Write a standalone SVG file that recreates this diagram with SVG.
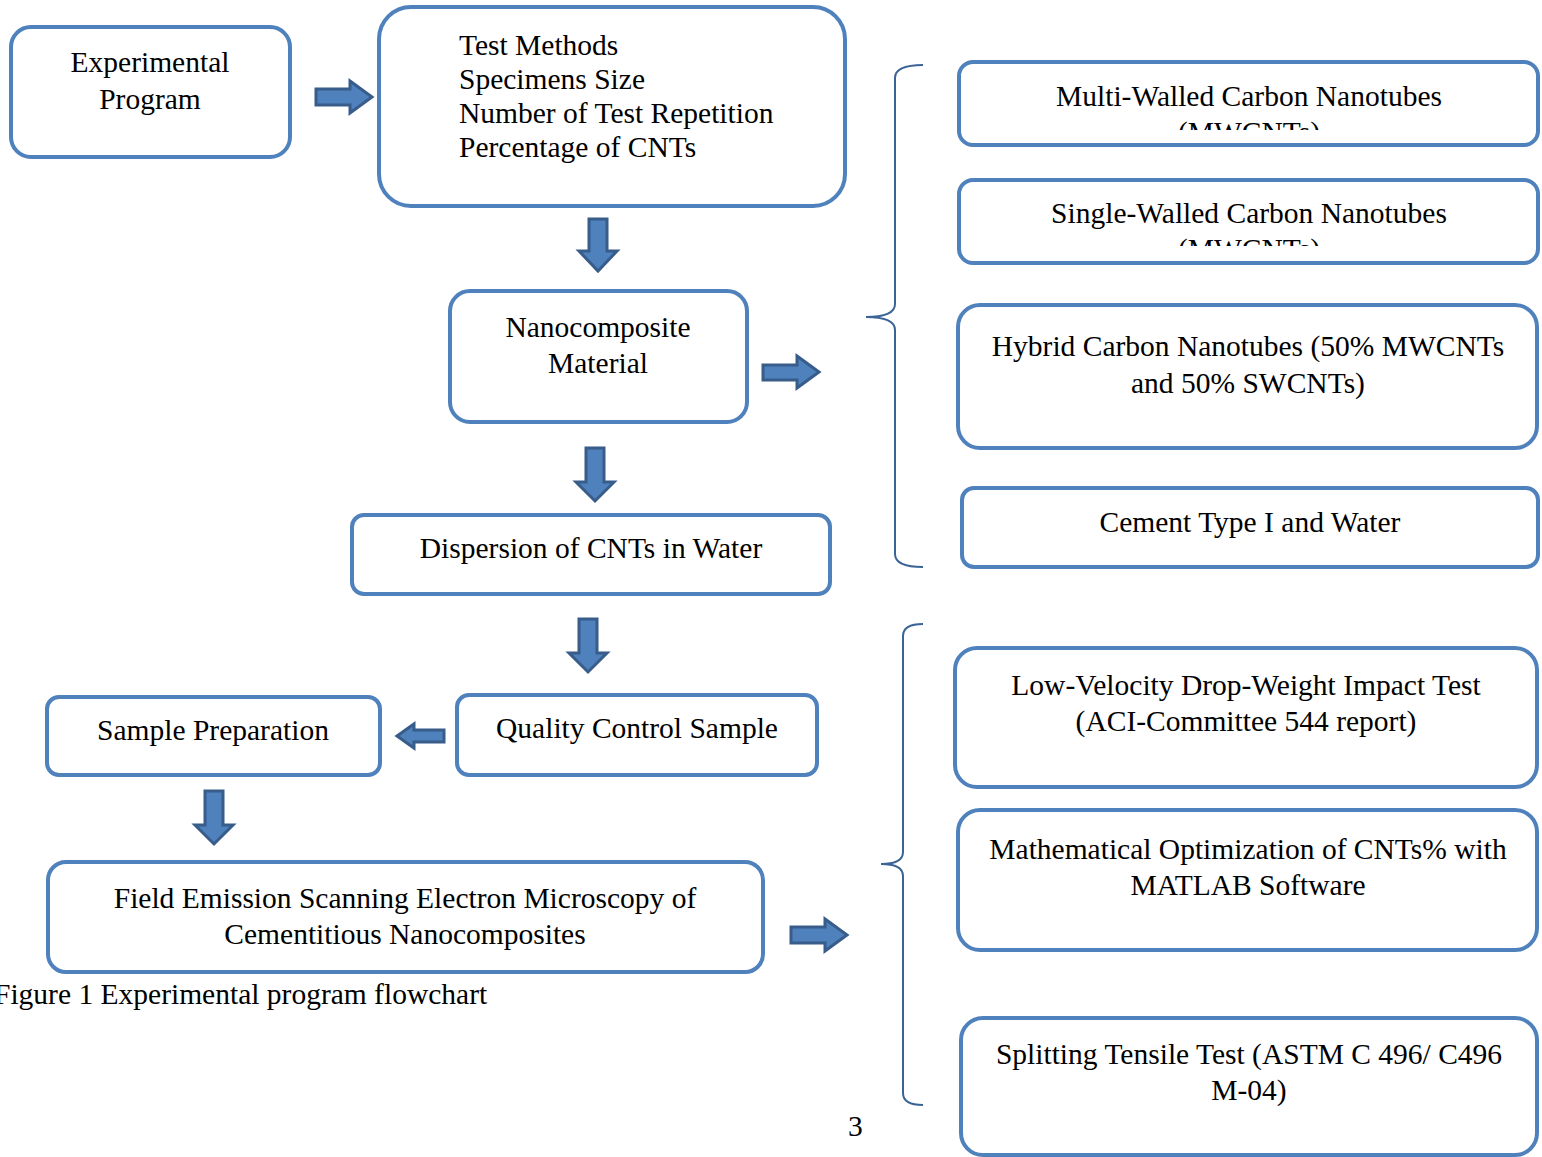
<svg xmlns="http://www.w3.org/2000/svg" width="1542" height="1157" viewBox="0 0 1542 1157">
<style>
.box{fill:#fff;stroke:#4f81bd;stroke-width:4}
text{font-family:"Liberation Serif","Times New Roman",serif;font-size:29.5px;fill:#000}
.c{text-anchor:middle}
.arr{fill:#4f81bd;stroke:#385d8a;stroke-width:3;stroke-linejoin:miter}
.br{fill:none;stroke:#3a6396;stroke-width:2}
</style>
<defs>
<clipPath id="clip1"><rect x="959" y="62" width="580" height="68"/></clipPath>
<clipPath id="clip2"><rect x="959" y="180" width="580" height="66"/></clipPath>
</defs>
<g id="connectors">
<path class="arr" d="M316,89 H350 V81 L372,97 L350,113 V105 H316 Z"/>
<path class="arr" d="M589,219 H607 V251 H617 L598,271 L579,251 H589 Z"/>
<path class="arr" d="M763,365 H797 V356 L819,372 L797,388 V380 H763 Z"/>
<path class="arr" d="M586,448 H604 V482 H614 L595,501 L576,482 H586 Z"/>
<path class="arr" d="M579,619 H597 V653 H607 L588,672 L569,653 H579 Z"/>
<path class="arr" d="M444,730 H414 V724 L397,736 L414,748 V742 H444 Z"/>
<path class="arr" d="M205,791 H223 V825 H233 L214,844 L195,825 H205 Z"/>
<path class="arr" d="M791,927 H825 V919 L847,935 L825,951 V943 H791 Z"/>
<path class="br" d="M923,65 Q895,65 895,78 V304 Q895,317 866,317 Q895,317 895,330 V554 Q895,567 923,567"/>
<path class="br" d="M923,624 Q903,624 903,636 V852 Q903,864 881,864 Q903,864 903,876 V1093 Q903,1105 923,1105"/>
</g>
<g id="n1"><rect class="box" x="11" y="27" width="279" height="130" rx="20"/><text class="c" x="150" y="72">Experimental</text><text class="c" x="150" y="109">Program</text></g>
<g id="n2"><rect class="box" x="379" y="7" width="466" height="199" rx="32"/><text x="459" y="55">Test Methods</text><text x="459" y="89">Specimens Size</text><text x="459" y="123">Number of Test Repetition</text><text x="459" y="157">Percentage of CNTs</text></g>
<g id="n3"><rect class="box" x="450" y="291" width="297" height="131" rx="20"/><text class="c" x="598" y="337">Nanocomposite</text><text class="c" x="598" y="373">Material</text></g>
<g id="n4"><rect class="box" x="352" y="515" width="478" height="79" rx="12"/><text class="c" x="591" y="558">Dispersion of CNTs in Water</text></g>
<g id="n5"><rect class="box" x="457" y="695" width="360" height="80" rx="12"/><text class="c" x="637" y="738">Quality Control Sample</text></g>
<g id="n6"><rect class="box" x="47" y="697" width="333" height="78" rx="12"/><text class="c" x="213" y="740">Sample Preparation</text></g>
<g id="n7"><rect class="box" x="48" y="862" width="715" height="110" rx="18"/><text class="c" x="405" y="908">Field Emission Scanning Electron Microscopy of</text><text class="c" x="405" y="944">Cementitious Nanocomposites</text></g>
<g id="n8"><rect class="box" x="959" y="62" width="579" height="83" rx="14"/><text class="c" x="1249" y="106">Multi-Walled Carbon Nanotubes</text><text class="c" x="1249" y="142" clip-path="url(#clip1)">(MWCNTs)</text></g>
<g id="n9"><rect class="box" x="959" y="180" width="579" height="83" rx="14"/><text class="c" x="1249" y="223">Single-Walled Carbon Nanotubes</text><text class="c" x="1249" y="259" clip-path="url(#clip2)">(MWCNTs)</text></g>
<g id="n10"><rect class="box" x="958" y="305" width="579" height="143" rx="22"/><text class="c" x="1248" y="356">Hybrid Carbon Nanotubes (50% MWCNTs</text><text class="c" x="1248" y="393">and 50% SWCNTs)</text></g>
<g id="n11"><rect class="box" x="962" y="488" width="576" height="79" rx="12"/><text class="c" x="1250" y="532">Cement Type I and Water</text></g>
<g id="n12"><rect class="box" x="955" y="648" width="582" height="139" rx="22"/><text class="c" x="1246" y="695">Low-Velocity Drop-Weight Impact Test</text><text class="c" x="1246" y="731">(ACI-Committee 544 report)</text></g>
<g id="n13"><rect class="box" x="958" y="810" width="579" height="140" rx="22"/><text class="c" x="1248" y="859">Mathematical Optimization of CNTs% with</text><text class="c" x="1248" y="895">MATLAB Software</text></g>
<g id="n14"><rect class="box" x="961" y="1018" width="576" height="137" rx="22"/><text class="c" x="1249" y="1064">Splitting Tensile Test (ASTM C 496/ C496</text><text class="c" x="1249" y="1100">M-04)</text></g>
<text x="-6" y="1004">Figure 1 Experimental program flowchart</text>
<text x="848" y="1136">3</text>
</svg>
